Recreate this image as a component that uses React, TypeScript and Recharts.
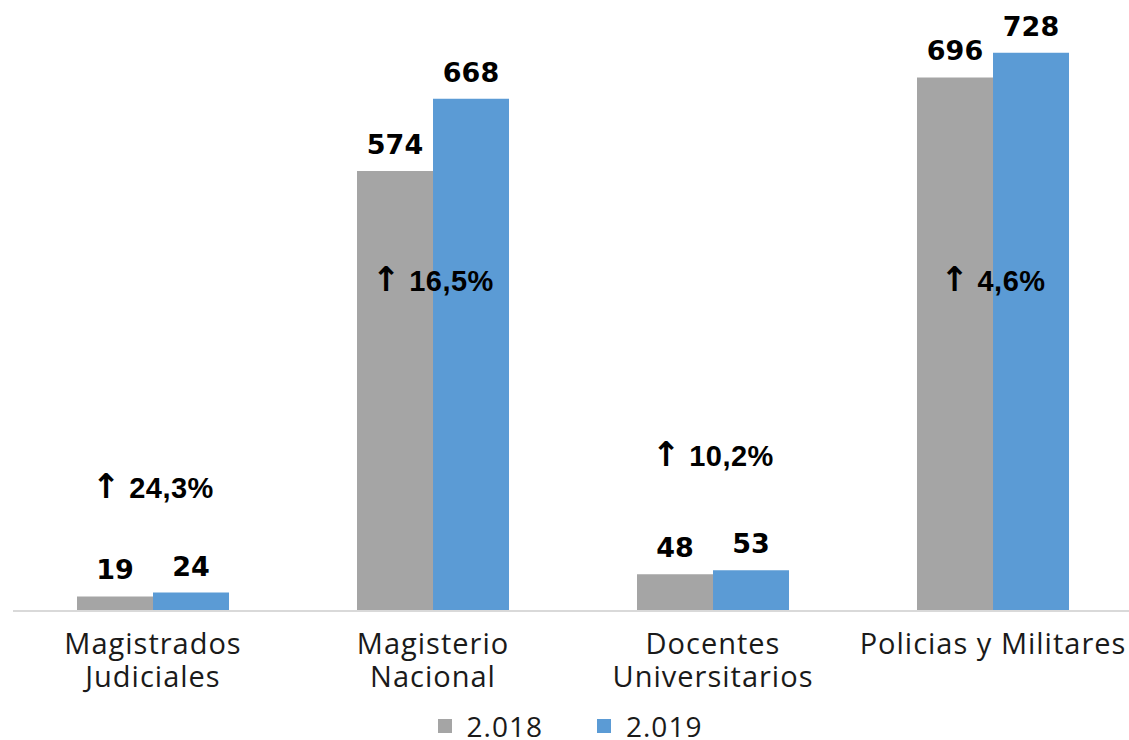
import { BarChart, Bar, XAxis, YAxis, Legend, LabelList, ReferenceDot } from 'recharts';

const CATEGORIES = ['Magistrados\nJudiciales', 'Magisterio\nNacional', 'Docentes\nUniversitarios', 'Policias y Militares'];
const VALUES_2018 = [19, 574, 48, 696];
const VALUES_2019 = [24, 668, 53, 728];
const GROWTH = ['24,3%', '16,5%', '10,2%', '4,6%'];
// where each growth note sits, in chart units
const GROWTH_ANCHOR = [160, 430, 202, 430];

const GRAY = '#A5A5A5';
const BLUE = '#5B9BD5';
const LIGHT = "'Open Sans', sans-serif";

const data = CATEGORIES.map((name, i) => ({
  name,
  y2018: VALUES_2018[i],
  y2019: VALUES_2019[i],
}));

const CategoryTick = (props: any) => {
  const { x, y, payload } = props;
  const lines = String(payload.value).split('\n');
  return (
    <text x={x} y={y} textAnchor="middle" fill="#1a1a1a" fontFamily={LIGHT} fontSize={29} letterSpacing={1}>
      {lines.map((line, i) => (
        <tspan key={i} x={x} dy={i === 0 ? 35 : 33}>
          {line}
        </tspan>
      ))}
    </text>
  );
};

const GrowthLabel = (text: string) => (props: any) => {
  const { viewBox } = props;
  const cx = viewBox.x + (viewBox.width || 0) / 2;
  const cy = viewBox.y + (viewBox.height || 0) / 2;
  return (
    <text x={cx} y={cy} dy={10} textAnchor="middle" fill="#000" fontWeight="bold">
      <tspan fontFamily="'DejaVu Sans', sans-serif" fontSize={34}>↑</tspan>
      <tspan fontFamily="'Liberation Sans', Arial, sans-serif" fontSize={29} letterSpacing={0.5}>{' ' + text}</tspan>
    </text>
  );
};

const LegendContent = () => (
  <div
    style={{
      display: 'flex',
      justifyContent: 'center',
      alignItems: 'center',
      gap: 54,
      fontFamily: LIGHT,
      fontSize: 28,
      lineHeight: '30px',
      letterSpacing: 1,
      color: '#1a1a1a',
      marginLeft: -6,
      marginTop: 5,
    }}
  >
    {[
      { label: '2.018', color: GRAY },
      { label: '2.019', color: BLUE },
    ].map((item) => (
      <div key={item.label} style={{ display: 'flex', alignItems: 'center' }}>
        <span style={{ display: 'inline-block', width: 14, height: 14, background: item.color, marginRight: 15 }} />
        <span>{item.label}</span>
      </div>
    ))}
  </div>
);

export default function App() {
  return (
    <div style={{ position: 'absolute', left: 0, top: 0, width: 1129, height: 740, overflow: 'hidden', background: '#fff' }}>
      <BarChart
        width={1133}
        height={740}
        data={data}
        margin={{ top: 13, right: 0, left: 13, bottom: 0 }}
        barGap={0}
        barCategoryGap="22.86%"
      >
        <XAxis
          dataKey="name"
          axisLine={{ stroke: '#D9D9D9', strokeWidth: 2 }}
          tickLine={false}
          tick={<CategoryTick />}
          height={95}
          interval={0}
        />
        <YAxis hide domain={[0, 780]} />
        <Legend verticalAlign="bottom" height={34} content={<LegendContent />} />
        <Bar dataKey="y2018" name="2.018" fill={GRAY} isAnimationActive={false}>
          <LabelList
            dataKey="y2018"
            position="top"
            offset={17}
            fill="#000"
            fontFamily="'DejaVu Sans', sans-serif"
            fontWeight="bold"
            fontSize={27}
          />
        </Bar>
        <Bar dataKey="y2019" name="2.019" fill={BLUE} isAnimationActive={false}>
          <LabelList
            dataKey="y2019"
            position="top"
            offset={17}
            fill="#000"
            fontFamily="'DejaVu Sans', sans-serif"
            fontWeight="bold"
            fontSize={27}
          />
        </Bar>
        {CATEGORIES.map((cat, i) => (
          <ReferenceDot
            key={cat}
            x={cat}
            y={GROWTH_ANCHOR[i]}
            r={0}
            fill="none"
            stroke="none"
            label={GrowthLabel(GROWTH[i])}
          />
        ))}
      </BarChart>
    </div>
  );
}
